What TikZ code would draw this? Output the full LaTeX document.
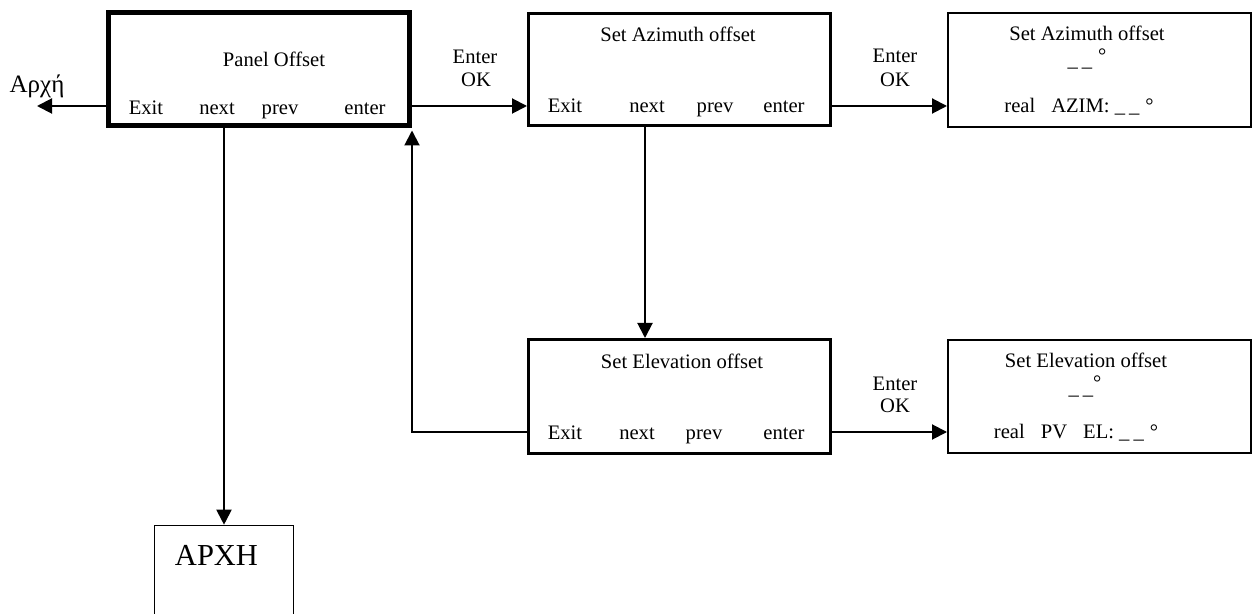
\documentclass[tikz,border=0pt]{standalone}
\usepackage{fontspec}
\setmainfont{Liberation Serif}
\usetikzlibrary{arrows.meta}
\begin{document}
\begin{tikzpicture}[x=0.5pt,y=-0.5pt,
  txt/.style={font=\fontsize{10.3}{12}\selectfont, inner sep=0pt, anchor=base},
  conn/.style={line width=1pt, -{Triangle[length=7.5pt,width=7.5pt]}},
  menubox/.style={draw, rectangle, inner sep=0pt, minimum width=151pt},
]
\clip (0,0) rectangle (1258,614);
\fill[white] (0,0) rectangle (1258,614);

% rows and columns used by the connectors
\coordinate (topRow) at (0,106);
\coordinate (botRow) at (0,432);
\coordinate (azNextCol) at (645,0);
\coordinate (home) at (37,106);

% menu boxes
\node[menubox, line width=2.5pt, minimum width=150.5pt, minimum height=56.5pt] (po) at (259,69) {};
\node[menubox, line width=1.5pt, minimum height=56pt] (az) at (679.5,69.5) {};
\node[menubox, line width=1pt, minimum width=151.5pt, minimum height=57pt] (azr) at (1099.5,70) {};
\node[menubox, line width=1.5pt, minimum height=57pt] (el) at (679.5,396.5) {};
\node[menubox, line width=1pt, minimum width=151.5pt, minimum height=56.5pt] (elr) at (1099.5,396.5) {};
\node[draw, rectangle, inner sep=0pt, line width=0.8pt, minimum width=69.5pt, minimum height=77pt] (apxh) at (224,602.5) {};

% Panel Offset
\node[txt] (poTitle) at (274,67) {Panel Offset};
\node[txt] (poExit) at (146,115) {Exit};
\node[txt] (poNext) at (217,115) {next};
\node[txt] (poPrev) at (280,115) {prev};
\node[txt] (poEnter) at (365,115) {enter};
\node[txt, font=\fontsize{12.5}{14}\selectfont] (homeLbl) at (37,93) {Αρχή};

% Set Azimuth offset
\node[txt] (azTitle) at (678,42) {Set Azimuth offset};
\node[txt] (azExit) at (565,113) {Exit};
\node[txt] (azNext) at (647,113) {next};
\node[txt] (azPrev) at (715,113) {prev};
\node[txt] (azEnter) at (784,113) {enter};

% Set Azimuth offset, value screen
\node[txt] (azrTitle) at (1087,41) {Set Azimuth offset};
\node[txt] (azrVal) at (1087,67) {\_\hspace{2pt}\_\hspace{3pt}\raisebox{2pt}{°}};
\node[txt] (azrReal) at (1079,113) {real\hspace{8pt}AZIM: \_\hspace{2pt}\_\hspace{3pt}°};

% Set Elevation offset
\node[txt] (elTitle) at (682,369) {Set Elevation offset};
\node[txt] (elExit) at (565,440) {Exit};
\node[txt] (elNext) at (637,440) {next};
\node[txt] (elPrev) at (704,440) {prev};
\node[txt] (elEnter) at (784,440) {enter};

% Set Elevation offset, value screen
\node[txt] (elrTitle) at (1086,368) {Set Elevation offset};
\node[txt] (elrVal) at (1085,394) {\_\hspace{2pt}\_\raisebox{2pt}{°}};
\node[txt] (elrReal) at (1076,438) {real\hspace{8pt}PV\hspace{8pt}EL: \_\hspace{2pt}\_\hspace{3pt}°};

% Enter / OK labels
\node[txt] (ok1a) at (475,64) {Enter};
\node[txt] (ok1b) at (476,87) {OK};
\node[txt] (ok2a) at (895,63) {Enter};
\node[txt] (ok2b) at (895,87) {OK};
\node[txt] (ok3a) at (895,391) {Enter};
\node[txt] (ok3b) at (895,413) {OK};

% start screen
\node[txt, font=\fontsize{15.25}{17}\selectfont] (apxhLbl) at (216.5,565) {ΑΡΧΗ};

% connectors
\draw[conn] (po.west |- topRow) -- (home);
\draw[conn] (po.east |- topRow) -- (az.west |- topRow);
\draw[conn] (az.east |- topRow) -- (azr.west |- topRow);
\draw[conn] (apxh.north |- po.south) -- (apxh.north);
\draw[conn] (az.south -| azNextCol) -- (el.north -| azNextCol);
\draw[conn, shorten >=1.25pt] (el.west |- botRow) -| (po.south east);
\draw[conn] (el.east |- botRow) -- (elr.west |- botRow);
\end{tikzpicture}
\end{document}
